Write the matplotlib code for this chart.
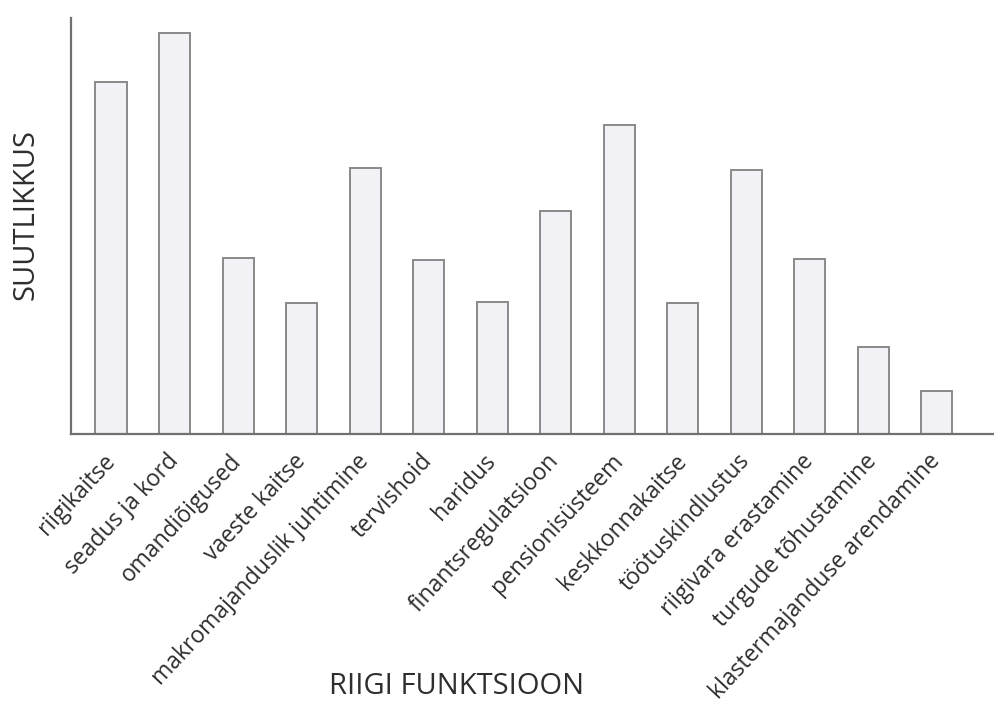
import matplotlib.pyplot as plt
import numpy as np

plt.rcParams['font.family'] = ['Open Sans', 'DejaVu Sans']

# state functions and how well they are carried out (no scale in the source)
functions = ['riigikaitse', 'seadus ja kord', 'omandiõigused', 'vaeste kaitse',
             'makromajanduslik juhtimine', 'tervishoid', 'haridus',
             'finantsregulatsioon', 'pensionisüsteem', 'keskkonnakaitse',
             'töötuskindlustus', 'riigivara erastamine', 'turgude tõhustamine',
             'klastermajanduse arendamine']
capability = [35.2, 40.1, 17.6, 13.1, 26.6, 17.4, 13.2, 22.3, 30.9, 13.1,
              26.4, 17.5, 8.7, 4.3]

text_color = '#2e2e2e'
fig = plt.figure(figsize=(9.94, 7.11), dpi=100)
ax = fig.add_axes([71 / 994, 1 - 434 / 711, (994 - 71) / 994, (434 - 18) / 711])

x = np.arange(len(functions))
ax.bar(x, capability, width=0.49, color='#f1f1f6', edgecolor='#8a8a8a', linewidth=1.4)

ax.set_xlim(-0.63, 13.9)
ax.set_ylim(0, 41.6)
ax.set_yticks([])
ax.set_xticks(x)
ax.set_xticklabels(functions, rotation=47, ha='right', va='center',
                   rotation_mode='anchor', fontsize=16.5, color=text_color)
ax.tick_params(axis='x', length=0, pad=17)

for side in ['top', 'right']:
    ax.spines[side].set_visible(False)
for side in ['left', 'bottom']:
    ax.spines[side].set_color('#707070')
    ax.spines[side].set_linewidth(1.6)

fig.text(26 / 994, 1 - 215 / 711, 'SUUTLIKKUS', fontsize=21, rotation=90,
         color=text_color, ha='center', va='center')
fig.text(457 / 994, 1 - 687 / 711, 'RIIGI FUNKTSIOON', fontsize=21,
         color=text_color, ha='center', va='center')

fig.savefig('out.png', dpi=100, facecolor='white')
